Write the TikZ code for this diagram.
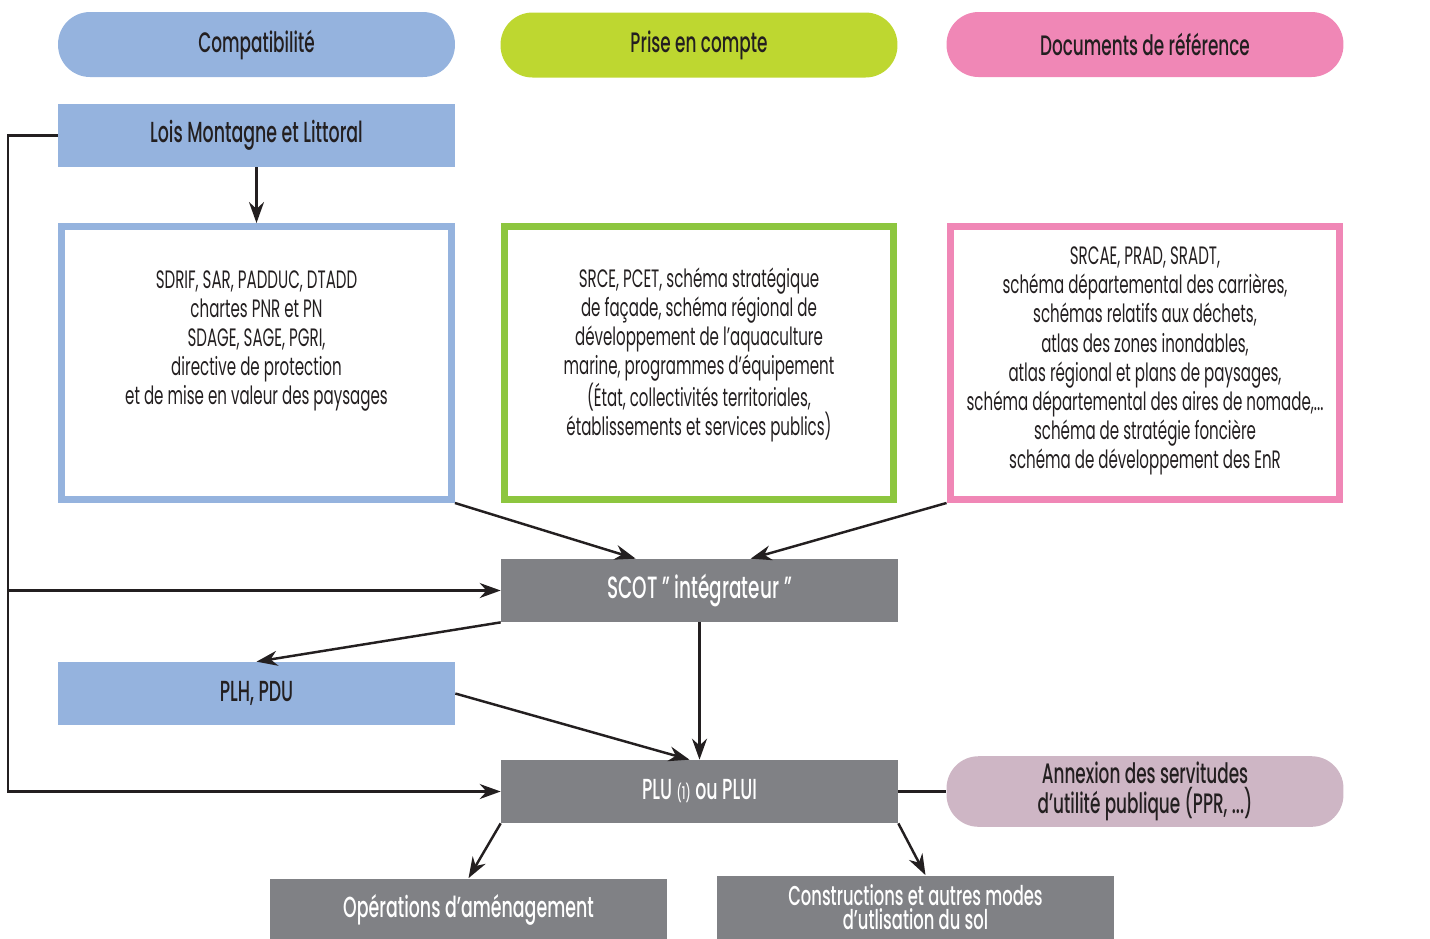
\documentclass[tikz,border=0pt]{standalone}
\usepackage{fontspec}
\setmainfont{Poppins}[FakeStretch=0.6, BoldFont={Poppins Medium}]
\usetikzlibrary{arrows.meta, positioning}

\definecolor{blueA}{RGB}{149,179,222}
\definecolor{limeA}{RGB}{190,215,48}
\definecolor{pinkA}{RGB}{240,135,182}
\definecolor{greenB}{RGB}{141,198,63}
\definecolor{grayA}{RGB}{128,129,133}
\definecolor{mauveA}{RGB}{206,182,197}
\definecolor{ink}{RGB}{35,31,32}

\begin{document}
\begin{tikzpicture}[x=0.02cm, y=-0.02cm,
    >={Stealth[length=0.42cm, width=0.3cm]},
    every node/.style={text=ink},
    pill/.style={rounded corners=0.64cm, minimum width=7.94cm, minimum height=1.3cm,
        font=\fontsize{16}{19}\selectfont\bfseries},
    band/.style={minimum width=7.94cm, minimum height=1.26cm, inner sep=0pt,
        font=\fontsize{16.5}{19}\selectfont\bfseries},
    grey/.style={band, fill=grayA, text=white},
    refbox/.style={draw=#1, line width=0.14cm, minimum width=7.8cm, minimum height=5.46cm},
    boxtext/.style={align=center, font=\fontsize{14.3}{16.6}\selectfont},
    link/.style={line width=1.4pt, draw=ink}]
    \useasboundingbox (0,0) rectangle (1430,938);

    % headers
    \node (comp) [pill, fill=blueA] at (256.5,44.5) {Compatibilité};
    \node (prise) [pill, fill=limeA] at (699,45) {Prise en compte};
    \node (docs) [pill, fill=pinkA] at (1145,44.5) {Documents de référence};

    \node (lois) [band, fill=blueA] at (256.5,135.5) {Lois Montagne et Littoral};

    % boxes
    \node (box1) [refbox=blueA] at (256.5,363) {};
    \node (box2) [refbox=greenB] at (699,363) {};
    \node (box3) [refbox=pinkA] at (1145,363) {};
    \node (txt1) [boxtext] at (256.5,341) {SDRIF, SAR, PADDUC, DTADD\\chartes PNR et PN\\SDAGE, SAGE, PGRI,\\directive de protection\\et de mise en valeur des paysages};
    \node (txt2) [boxtext] at (699,355) {SRCE, PCET, schéma stratégique\\de façade, schéma régional de\\développement de l'aquaculture\\marine, programmes d'équipement\\(État, collectivités territoriales,\\établissements et services publics)};
    \node (txt3) [boxtext] at (1145,361) {SRCAE, PRAD, SRADT,\\schéma départemental des carrières,\\schémas relatifs aux déchets,\\atlas des zones inondables,\\atlas régional et plans de paysages,\\schéma départemental des aires de nomade,...\\schéma de stratégie foncière\\schéma de développement des EnR};

    \node (scot) [grey, font=\fontsize{17.5}{19}\selectfont\bfseries] at (699.5,590.5) {SCOT " intégrateur "};
    \node (plh) [band, fill=blueA] at (256.5,693.5) {PLH, PDU};
    \node (plu) [grey] at (699.5,791.5) {PLU {\fontsize{10}{12}\selectfont(1)} ou PLUI};
    \node (annex) [pill, fill=mauveA, align=center, minimum height=1.34cm,
        font=\fontsize{16}{17}\selectfont\bfseries] at (1145,791.5) {Annexion des servitudes\\d'utilité publique (PPR, ...)};
    \node (oper) [grey] at (468.5,910) {Opérations d’aménagement};
    \node (constr) [grey, align=center, font=\fontsize{15.5}{14}\selectfont\bfseries] at (915.5,907) {Constructions et autres modes\\d’utlisation du sol};

    \coordinate (side) at (8,791.5);

    % connectors
    \draw[link, ->] (lois) -- (box1);
    \draw[link, ->] (lois.west) -| (side) -- (plu.west);
    \draw[link, ->] (scot.west -| side) -- (scot.west);
    \draw[link, ->] (box1.south east) -- ([xshift=2.7cm]scot.north west);
    \draw[link, ->] (box3.south west) -- ([xshift=5cm]scot.north west);
    \draw[link, ->] (scot.south west) -- (plh.north);
    \draw[link, ->] (scot.south) -- (plu.north);
    \draw[link, ->] (plh.east) -- ([xshift=-0.2cm]plu.north);
    \draw[link] (plu.east) -- (annex.west);
    \draw[link, ->] (plu.south west) -- (oper.north);
    \draw[link, ->] (plu.south east) -- ([xshift=0.2cm]constr.north);
\end{tikzpicture}
\end{document}
